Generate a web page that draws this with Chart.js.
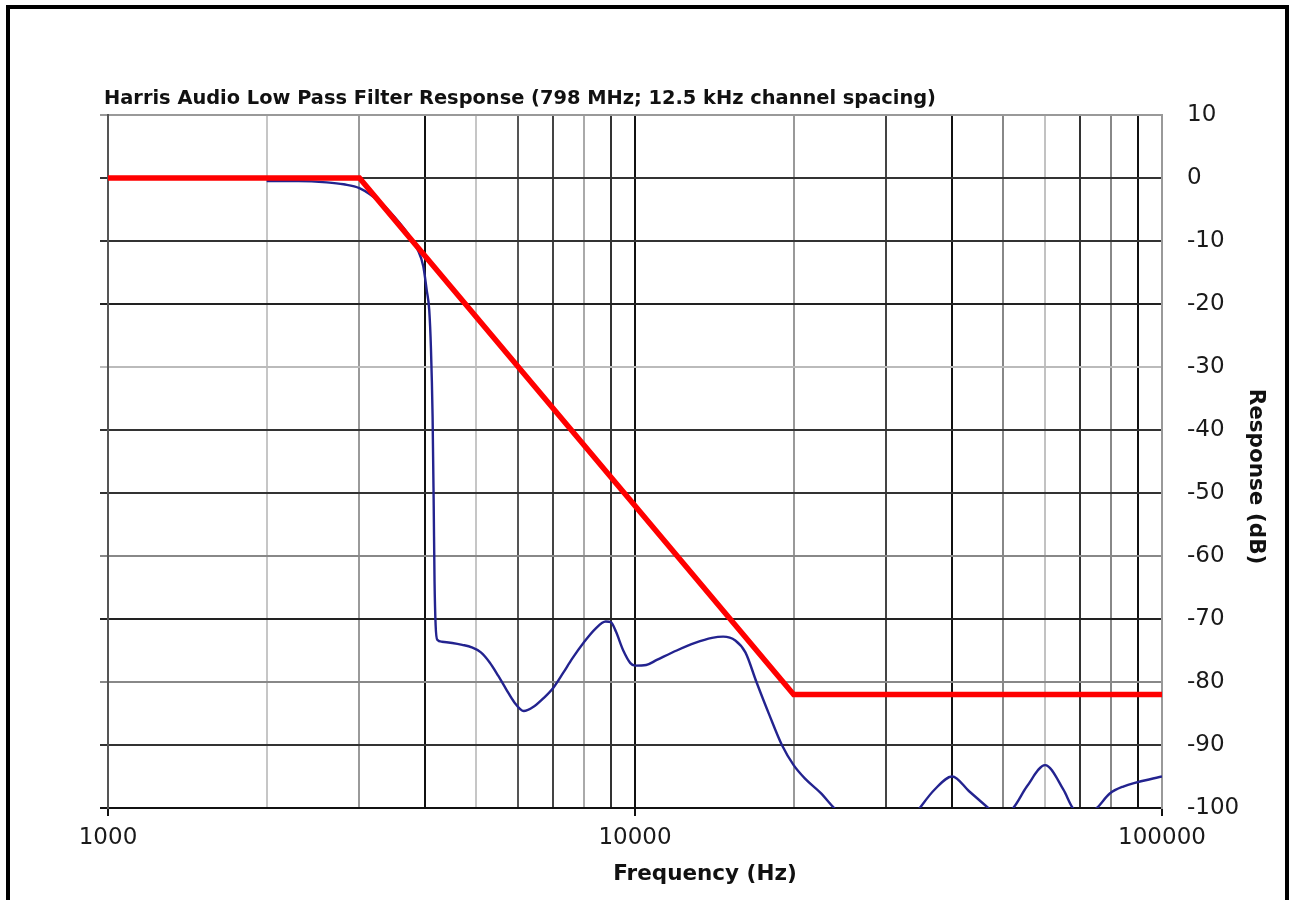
<!DOCTYPE html>
<html>
<head>
<meta charset="utf-8">
<title>Harris Audio Low Pass Filter Response</title>
<script src="https://cdn.jsdelivr.net/npm/chart.js@4.4.1/dist/chart.umd.min.js"></script>
<style>
  html, body { margin: 0; padding: 0; background: #fff; overflow: hidden; }
  #wrap { position: relative; width: 1291px; height: 900px; }
  #chart { position: absolute; left: 0; top: 0; }
  #frame { position: absolute; left: 6px; top: 5px; width: 1275px; height: 930px;
           border: 4.5px solid #000; pointer-events: none; }
</style>
</head>
<body>
<div id="wrap">
  <canvas id="chart" width="1291" height="900"></canvas>
  <div id="frame"></div>
</div>
<script>
// ---- data ----
const chartTitle = 'Harris Audio Low Pass Filter Response (798 MHz; 12.5 kHz channel spacing)';
const xAxisTitle = 'Frequency (Hz)';
const yAxisTitle = 'Response (dB)';

const xMin = 1000, xMax = 100000;
const yMin = -100, yMax = 10, yStep = 10;
const xLabelValues = [1000, 10000, 100000];
const xGridValues = [
  1000, 2000, 3000, 4000, 5000, 6000, 7000, 8000, 9000,
  10000, 20000, 30000, 40000, 50000, 60000, 70000, 80000, 90000, 100000
];

// spec mask corners (Hz, dB)
const maskFreq = [1000, 3000, 20000, 100000];
const maskDb   = [0, 0, -82, -82];

// measured filter response (Hz, dB)
const respFreq = [
  2000, 2300, 2600, 2800, 3000, 3300, 3580, 3740, 3870, 3965,
  4025, 4070, 4100, 4130, 4150, 4165, 4185, 4215, 4300, 4500,
  4700, 4900, 5100, 5300, 5500, 5700, 5900, 6150, 6450, 6700,
  7000, 7300, 7600, 8000, 8400, 8800, 9000, 9200, 9500, 9800,
  10000, 10500, 11000, 12000, 13000, 14000, 14700, 15500, 16200, 17000,
  18000, 19000, 20000, 21000, 22500, 24000, 26000, 30000, 33000, 34700,
  37000, 40000, 43000, 46800, 49000, 52200, 55400, 60000, 65000, 67700,
  71000, 75200, 79600, 84400, 100000
];
const respDb = [
  -0.5, -0.5, -0.7, -1.0, -1.6, -4.0, -7.2, -9.3, -11.4, -14.0,
  -17.8, -21.0, -27.0, -38.0, -52.0, -64.0, -71.0, -73.3, -73.6, -73.8,
  -74.1, -74.5, -75.3, -76.9, -79.0, -81.2, -83.2, -84.6, -83.8, -82.6,
  -80.9, -78.6, -76.3, -73.7, -71.6, -70.4, -70.5, -72.0, -75.0, -77.0,
  -77.4, -77.3, -76.5, -75.0, -73.8, -73.0, -72.8, -73.4, -75.3, -80.0,
  -85.3, -90.0, -93.2, -95.3, -97.6, -100.2, -102.5, -104.0, -102.5, -100.0,
  -97.1, -95.0, -97.3, -100.0, -101.5, -100.0, -96.6, -93.2, -97.1, -100.0,
  -101.5, -100.0, -97.7, -96.6, -95.0
];

// ---- grid line shading (per tick value) ----
const xGridShade = {
  1000: '#555', 2000: '#c6c6c6', 3000: '#9a9a9a', 4000: '#111', 5000: '#c6c6c6',
  6000: '#555', 7000: '#444', 8000: '#aaa', 9000: '#333', 10000: '#111',
  20000: '#999', 30000: '#444', 40000: '#111', 50000: '#888', 60000: '#c2c2c2',
  70000: '#333', 80000: '#888', 90000: '#111', 100000: '#999'
};
const yGridShade = {
  '10': '#999', '0': '#333', '-10': '#333', '-20': '#222', '-30': '#bbb',
  '-40': '#333', '-50': '#333', '-60': '#888', '-70': '#222', '-80': '#888',
  '-90': '#333', '-100': '#111'
};

const toPoints = (xs, ys) => xs.map((x, i) => ({ x, y: ys[i] }));
const isDecade = v => xLabelValues.includes(v);

// free-standing captions (title and axis names)
const captions = {
  id: 'captions',
  afterDraw(chart) {
    const { ctx, chartArea: a } = chart;
    ctx.save();
    ctx.fillStyle = '#111';
    ctx.textBaseline = 'alphabetic';

    ctx.font = 'bold 19.4px "DejaVu Sans"';
    ctx.textAlign = 'left';
    ctx.fillText(chartTitle, a.left - 4, a.top - 11);

    ctx.font = 'bold 21.5px "DejaVu Sans"';
    ctx.textAlign = 'center';
    ctx.fillText(xAxisTitle, a.left + 597, a.bottom + 72);

    ctx.translate(a.right + 88, (a.top + a.bottom) / 2 + 15);
    ctx.rotate(Math.PI / 2);
    ctx.fillText(yAxisTitle, 0, 0);
    ctx.restore();
  }
};

new Chart(document.getElementById('chart'), {
  type: 'line',
  data: {
    datasets: [
      {
        label: 'Mask',
        data: toPoints(maskFreq, maskDb),
        borderColor: '#ff0000',
        borderWidth: 5.5,
        pointRadius: 0,
        tension: 0,
        clip: 0
      },
      {
        label: 'Response',
        data: toPoints(respFreq, respDb),
        borderColor: '#23238f',
        borderWidth: 2.4,
        pointRadius: 0,
        cubicInterpolationMode: 'monotone',
        clip: 0
      }
    ]
  },
  options: {
    responsive: false,
    animation: false,
    devicePixelRatio: 1,
    layout: { padding: { left: 98, right: 0, top: 115, bottom: 32 } },
    plugins: {
      legend: { display: false },
      tooltip: { enabled: false },
      title: { display: false }
    },
    scales: {
      x: {
        type: 'logarithmic',
        position: 'bottom',
        min: xMin,
        max: xMax,
        afterBuildTicks: s => { s.ticks = xGridValues.map(v => ({ value: v })); },
        afterFit: s => { s.height = 60; },
        border: { display: true, color: '#111', width: 2 },
        grid: {
          color: c => xGridShade[c.tick.value] || '#999',
          lineWidth: 2,
          drawTicks: true,
          tickLength: 8,
          tickWidth: 2,
          tickColor: c => isDecade(c.tick.value) ? '#111' : 'rgba(0,0,0,0)'
        },
        ticks: {
          autoSkip: false,
          maxRotation: 0,
          padding: 8,
          color: '#1a1a1a',
          font: { family: 'DejaVu Sans', size: 23 },
          callback: v => isDecade(v) ? String(v) : ''
        }
      },
      yl: {
        type: 'linear',
        position: 'left',
        min: yMin,
        max: yMax,
        afterFit: s => { s.width = 10; },
        border: { display: true, color: '#555', width: 2 },
        grid: {
          color: c => yGridShade[String(c.tick.value)] || '#999',
          lineWidth: 2,
          drawTicks: true,
          tickLength: 8,
          tickWidth: 2
        },
        ticks: { stepSize: yStep, display: false }
      },
      y: {
        type: 'linear',
        position: 'right',
        min: yMin,
        max: yMax,
        afterFit: s => { s.width = 129; },
        border: { display: true, color: '#999', width: 2 },
        grid: { display: false, drawTicks: false },
        ticks: {
          stepSize: yStep,
          padding: 25,
          color: '#1a1a1a',
          font: { family: 'DejaVu Sans', size: 23 }
        }
      }
    }
  },
  plugins: [captions]
});
</script>
</body>
</html>
